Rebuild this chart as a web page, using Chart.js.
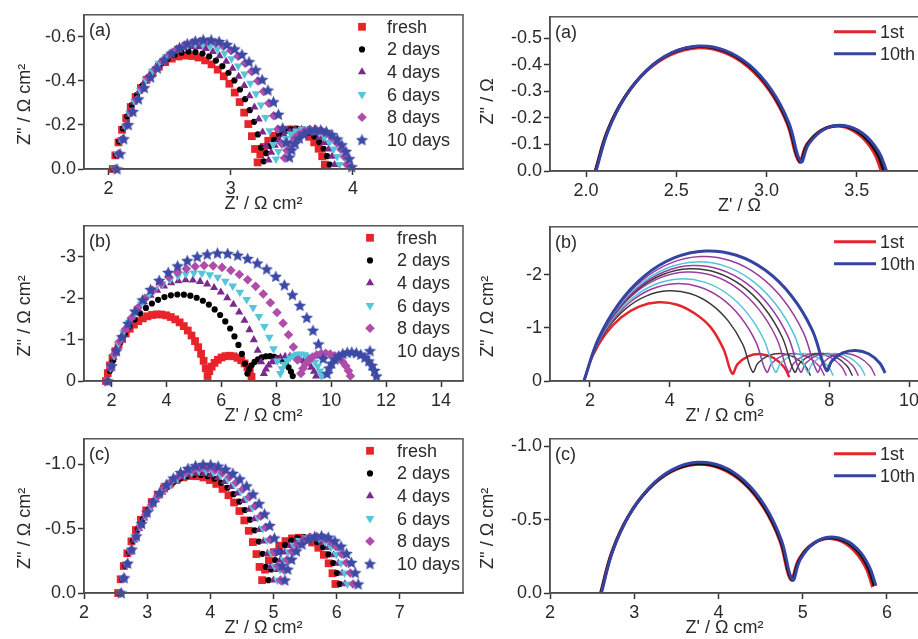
<!DOCTYPE html>
<html><head><meta charset="utf-8">
<script src="https://cdn.jsdelivr.net/npm/chart.js@4.4.1/dist/chart.umd.min.js"></script>
<style>
html,body{margin:0;padding:0;width:918px;height:639px;overflow:hidden;background:#fff;}
canvas{position:absolute;}
</style></head><body>
<canvas id="la"></canvas><canvas id="lb"></canvas><canvas id="lc"></canvas>
<canvas id="ra"></canvas><canvas id="rb"></canvas><canvas id="rc"></canvas>
<script>
// ---------------- DATA (Z' and Z'') ----------------
const agingLabels = ['fresh', '2 days', '4 days', '6 days', '8 days', '10 days'];
const cycleLabels = ['1st', '10th'];

// Panel (a) left
const aFreshX = [2.035,2.056,2.082,2.111,2.145,2.182,2.222,2.266,2.312,2.361,2.412,2.464,2.518,2.573,2.628,2.683,2.737,2.791,2.843,2.894,2.943,2.989,3.033,3.073,3.110,3.144,3.173,3.199,3.220,3.242,3.271,3.307,3.349,3.395,3.444,3.495,3.546,3.595,3.641,3.683,3.719,3.748,3.770];
const aFreshY = [0,-0.062,-0.121,-0.178,-0.231,-0.281,-0.327,-0.368,-0.405,-0.437,-0.464,-0.485,-0.501,-0.511,-0.515,-0.513,-0.506,-0.493,-0.475,-0.451,-0.421,-0.387,-0.347,-0.304,-0.256,-0.204,-0.149,-0.091,-0.030,-0.067,-0.100,-0.128,-0.151,-0.168,-0.177,-0.180,-0.176,-0.164,-0.146,-0.121,-0.092,-0.058,-0.020];
const a2dX = [2.040,2.062,2.088,2.119,2.154,2.192,2.234,2.280,2.328,2.379,2.431,2.486,2.541,2.598,2.655,2.712,2.769,2.824,2.879,2.932,2.982,3.030,3.076,3.118,3.156,3.191,3.222,3.248,3.270,3.291,3.320,3.355,3.396,3.442,3.490,3.540,3.590,3.638,3.684,3.725,3.760,3.789,3.810];
const a2dY = [0,-0.063,-0.125,-0.184,-0.239,-0.290,-0.337,-0.380,-0.418,-0.452,-0.479,-0.501,-0.518,-0.528,-0.533,-0.531,-0.524,-0.511,-0.492,-0.467,-0.437,-0.402,-0.361,-0.317,-0.267,-0.214,-0.157,-0.097,-0.035,-0.072,-0.104,-0.132,-0.155,-0.171,-0.180,-0.183,-0.178,-0.165,-0.147,-0.122,-0.092,-0.058,-0.020];
const a4dX = [2.050,2.072,2.100,2.131,2.167,2.206,2.249,2.295,2.345,2.397,2.451,2.507,2.564,2.622,2.680,2.739,2.796,2.854,2.909,2.963,3.015,3.065,3.111,3.154,3.194,3.229,3.261,3.288,3.310,3.331,3.360,3.395,3.436,3.482,3.530,3.580,3.630,3.678,3.724,3.765,3.800,3.829,3.850];
const a4dY = [0,-0.066,-0.130,-0.191,-0.248,-0.302,-0.351,-0.396,-0.435,-0.470,-0.499,-0.522,-0.539,-0.550,-0.555,-0.554,-0.546,-0.533,-0.513,-0.488,-0.457,-0.420,-0.378,-0.332,-0.281,-0.226,-0.167,-0.105,-0.040,-0.075,-0.107,-0.133,-0.155,-0.170,-0.178,-0.180,-0.175,-0.163,-0.144,-0.120,-0.090,-0.057,-0.020];
const a6dX = [2.050,2.074,2.102,2.135,2.172,2.213,2.259,2.307,2.359,2.413,2.470,2.528,2.588,2.649,2.710,2.771,2.832,2.892,2.950,3.007,3.061,3.113,3.161,3.207,3.248,3.285,3.318,3.347,3.370,3.390,3.418,3.452,3.492,3.535,3.582,3.630,3.678,3.725,3.768,3.808,3.842,3.870,3.890];
const a6dY = [0,-0.067,-0.133,-0.195,-0.253,-0.308,-0.358,-0.404,-0.444,-0.480,-0.509,-0.533,-0.551,-0.562,-0.568,-0.566,-0.559,-0.545,-0.526,-0.500,-0.468,-0.431,-0.389,-0.342,-0.290,-0.234,-0.174,-0.111,-0.045,-0.080,-0.111,-0.138,-0.159,-0.173,-0.181,-0.183,-0.177,-0.164,-0.145,-0.121,-0.091,-0.057,-0.020];
const a8dX = [2.060,2.085,2.114,2.149,2.188,2.231,2.278,2.329,2.383,2.440,2.499,2.560,2.623,2.686,2.750,2.814,2.878,2.940,3.001,3.060,3.117,3.171,3.222,3.269,3.312,3.351,3.386,3.415,3.440,3.460,3.487,3.521,3.559,3.602,3.648,3.695,3.742,3.788,3.831,3.869,3.903,3.930,3.950];
const a8dY = [0,-0.069,-0.135,-0.199,-0.258,-0.314,-0.365,-0.412,-0.454,-0.490,-0.520,-0.544,-0.563,-0.574,-0.580,-0.579,-0.572,-0.558,-0.538,-0.512,-0.480,-0.443,-0.400,-0.352,-0.299,-0.242,-0.181,-0.117,-0.050,-0.084,-0.114,-0.139,-0.158,-0.172,-0.180,-0.180,-0.174,-0.161,-0.142,-0.118,-0.089,-0.056,-0.020];
const a10dX = [2.070,2.095,2.125,2.161,2.200,2.245,2.293,2.345,2.400,2.458,2.519,2.581,2.645,2.710,2.775,2.840,2.905,2.969,3.032,3.092,3.150,3.205,3.257,3.305,3.350,3.390,3.425,3.455,3.480,3.500,3.527,3.561,3.599,3.642,3.688,3.735,3.782,3.828,3.871,3.909,3.943,3.970,3.990];
const a10dY = [0,-0.069,-0.137,-0.201,-0.261,-0.318,-0.369,-0.417,-0.458,-0.495,-0.526,-0.551,-0.569,-0.581,-0.587,-0.586,-0.579,-0.565,-0.545,-0.520,-0.487,-0.450,-0.406,-0.358,-0.305,-0.248,-0.186,-0.121,-0.054,-0.087,-0.116,-0.140,-0.159,-0.172,-0.178,-0.177,-0.170,-0.156,-0.136,-0.110,-0.080,-0.047,-0.010];

// Panel (b) left
const bFreshX = [1.800,1.866,1.945,2.038,2.142,2.258,2.385,2.521,2.666,2.818,2.977,3.141,3.308,3.478,3.650,3.822,3.992,4.160,4.323,4.482,4.634,4.779,4.915,5.042,5.158,5.263,5.355,5.434,5.500,5.563,5.648,5.753,5.874,6.009,6.152,6.300,6.448,6.591,6.726,6.847,6.952,7.037,7.100];
const bFreshY = [0,-0.191,-0.377,-0.553,-0.720,-0.875,-1.017,-1.147,-1.262,-1.363,-1.446,-1.513,-1.563,-1.595,-1.610,-1.606,-1.586,-1.546,-1.489,-1.417,-1.326,-1.220,-1.099,-0.965,-0.817,-0.658,-0.488,-0.307,-0.120,-0.239,-0.347,-0.439,-0.513,-0.568,-0.600,-0.610,-0.597,-0.560,-0.503,-0.425,-0.330,-0.221,-0.100];
const b2dX = [1.850,1.941,2.050,2.177,2.322,2.481,2.656,2.844,3.043,3.254,3.472,3.698,3.929,4.163,4.400,4.637,4.871,5.102,5.328,5.547,5.757,5.957,6.144,6.319,6.478,6.623,6.750,6.859,6.950,7.015,7.103,7.211,7.336,7.475,7.623,7.775,7.928,8.075,8.214,8.339,8.447,8.535,8.600];
const b2dY = [0,-0.247,-0.487,-0.716,-0.931,-1.132,-1.316,-1.485,-1.634,-1.766,-1.873,-1.961,-2.027,-2.070,-2.090,-2.086,-2.061,-2.011,-1.939,-1.847,-1.730,-1.595,-1.440,-1.268,-1.077,-0.872,-0.653,-0.421,-0.180,-0.286,-0.380,-0.460,-0.524,-0.570,-0.595,-0.600,-0.584,-0.548,-0.492,-0.419,-0.331,-0.230,-0.120];
const b4dX = [1.850,1.952,2.074,2.216,2.377,2.556,2.751,2.960,3.184,3.419,3.663,3.915,4.173,4.436,4.700,4.965,5.227,5.485,5.737,5.981,6.216,6.440,6.649,6.844,7.023,7.184,7.326,7.449,7.550,7.625,7.726,7.850,7.995,8.154,8.324,8.500,8.676,8.846,9.005,9.150,9.274,9.375,9.450];
const b4dY = [0,-0.290,-0.571,-0.839,-1.091,-1.327,-1.542,-1.739,-1.913,-2.066,-2.191,-2.293,-2.369,-2.418,-2.440,-2.434,-2.403,-2.343,-2.257,-2.147,-2.009,-1.849,-1.665,-1.462,-1.237,-0.996,-0.737,-0.464,-0.180,-0.286,-0.380,-0.460,-0.524,-0.570,-0.595,-0.600,-0.584,-0.548,-0.492,-0.419,-0.331,-0.230,-0.120];
const b6dX = [1.850,1.962,2.098,2.255,2.433,2.630,2.845,3.077,3.324,3.584,3.854,4.133,4.418,4.708,5.000,5.292,5.582,5.868,6.146,6.416,6.676,6.923,7.155,7.370,7.567,7.746,7.902,8.038,8.150,8.209,8.289,8.387,8.501,8.627,8.761,8.900,9.039,9.173,9.299,9.413,9.511,9.591,9.650];
const b6dY = [0,-0.311,-0.612,-0.899,-1.168,-1.421,-1.651,-1.862,-2.048,-2.212,-2.345,-2.454,-2.535,-2.587,-2.610,-2.603,-2.569,-2.504,-2.411,-2.293,-2.144,-1.972,-1.775,-1.556,-1.315,-1.055,-0.778,-0.484,-0.180,-0.298,-0.403,-0.493,-0.564,-0.615,-0.644,-0.650,-0.633,-0.593,-0.532,-0.452,-0.354,-0.242,-0.120];
const b8dX = [1.850,1.976,2.127,2.303,2.502,2.723,2.964,3.223,3.500,3.790,4.093,4.404,4.724,5.048,5.375,5.702,6.026,6.346,6.657,6.960,7.250,7.527,7.786,8.027,8.248,8.447,8.623,8.775,8.900,8.971,9.067,9.184,9.321,9.473,9.634,9.800,9.966,10.127,10.279,10.416,10.534,10.629,10.700];
const b8dY = [0,-0.333,-0.655,-0.962,-1.251,-1.521,-1.767,-1.993,-2.191,-2.366,-2.509,-2.625,-2.711,-2.765,-2.790,-2.782,-2.745,-2.674,-2.574,-2.447,-2.287,-2.102,-1.890,-1.656,-1.397,-1.119,-0.821,-0.506,-0.180,-0.302,-0.412,-0.505,-0.580,-0.633,-0.664,-0.670,-0.653,-0.611,-0.548,-0.464,-0.363,-0.247,-0.120];
const b10dX = [1.870,2.012,2.184,2.382,2.608,2.858,3.131,3.425,3.737,4.066,4.408,4.761,5.123,5.490,5.860,6.230,6.597,6.959,7.312,7.654,7.983,8.296,8.589,8.862,9.112,9.338,9.536,9.708,9.850,9.921,10.017,10.134,10.271,10.423,10.584,10.750,10.916,11.077,11.229,11.366,11.484,11.579,11.650];
const b10dY = [0,-0.369,-0.727,-1.068,-1.388,-1.687,-1.960,-2.210,-2.430,-2.624,-2.781,-2.909,-3.004,-3.064,-3.090,-3.080,-3.038,-2.959,-2.847,-2.705,-2.526,-2.320,-2.084,-1.823,-1.534,-1.224,-0.893,-0.543,-0.180,-0.310,-0.426,-0.525,-0.604,-0.660,-0.693,-0.700,-0.682,-0.639,-0.572,-0.484,-0.377,-0.254,-0.120];

// Panel (c) left
const cFreshX = [2.540,2.581,2.630,2.686,2.751,2.822,2.900,2.984,3.074,3.168,3.265,3.366,3.469,3.574,3.680,3.786,3.891,3.994,4.095,4.193,4.287,4.376,4.460,4.538,4.609,4.674,4.730,4.779,4.820,4.866,4.927,5.003,5.091,5.189,5.293,5.400,5.507,5.611,5.709,5.797,5.873,5.934,5.980];
const cFreshY = [0,-0.107,-0.210,-0.309,-0.402,-0.490,-0.570,-0.643,-0.708,-0.765,-0.813,-0.852,-0.881,-0.900,-0.910,-0.909,-0.899,-0.879,-0.849,-0.810,-0.761,-0.704,-0.638,-0.565,-0.484,-0.396,-0.303,-0.203,-0.100,-0.182,-0.255,-0.318,-0.368,-0.404,-0.425,-0.430,-0.419,-0.393,-0.352,-0.297,-0.231,-0.154,-0.070];
const c2dX = [2.560,2.602,2.653,2.712,2.778,2.852,2.933,3.020,3.112,3.210,3.311,3.415,3.522,3.631,3.740,3.850,3.958,4.065,4.169,4.271,4.368,4.460,4.547,4.628,4.702,4.769,4.827,4.878,4.920,4.964,5.025,5.099,5.184,5.280,5.381,5.485,5.589,5.691,5.786,5.872,5.946,6.006,6.050];
const c2dY = [0,-0.108,-0.213,-0.313,-0.407,-0.495,-0.576,-0.650,-0.716,-0.774,-0.822,-0.861,-0.891,-0.910,-0.920,-0.919,-0.909,-0.889,-0.858,-0.819,-0.769,-0.711,-0.645,-0.571,-0.488,-0.400,-0.305,-0.204,-0.100,-0.183,-0.257,-0.321,-0.372,-0.408,-0.430,-0.435,-0.424,-0.397,-0.356,-0.300,-0.233,-0.155,-0.070];
const c4dX = [2.570,2.613,2.666,2.726,2.795,2.871,2.954,3.043,3.139,3.239,3.343,3.450,3.561,3.672,3.785,3.898,4.010,4.120,4.227,4.331,4.431,4.527,4.616,4.699,4.775,4.844,4.905,4.957,5.000,5.044,5.105,5.179,5.264,5.360,5.461,5.565,5.669,5.771,5.866,5.952,6.026,6.086,6.130];
const c4dY = [0,-0.109,-0.215,-0.316,-0.412,-0.501,-0.583,-0.658,-0.724,-0.783,-0.831,-0.870,-0.901,-0.920,-0.930,-0.929,-0.919,-0.898,-0.867,-0.828,-0.777,-0.719,-0.651,-0.576,-0.493,-0.403,-0.307,-0.206,-0.100,-0.182,-0.255,-0.318,-0.368,-0.404,-0.425,-0.430,-0.419,-0.393,-0.352,-0.297,-0.231,-0.154,-0.070];
const c6dX = [2.580,2.624,2.678,2.739,2.809,2.887,2.972,3.063,3.160,3.263,3.369,3.479,3.591,3.705,3.820,3.935,4.049,4.162,4.271,4.378,4.480,4.577,4.668,4.753,4.831,4.901,4.963,5.016,5.060,5.104,5.163,5.235,5.320,5.413,5.512,5.615,5.718,5.817,5.910,5.995,6.067,6.126,6.170];
const c6dY = [0,-0.112,-0.220,-0.323,-0.421,-0.512,-0.595,-0.672,-0.740,-0.800,-0.849,-0.889,-0.920,-0.940,-0.950,-0.949,-0.939,-0.917,-0.885,-0.845,-0.793,-0.733,-0.664,-0.587,-0.502,-0.410,-0.312,-0.208,-0.100,-0.183,-0.257,-0.321,-0.372,-0.408,-0.430,-0.435,-0.424,-0.397,-0.356,-0.300,-0.233,-0.155,-0.070];
const c8dX = [2.580,2.625,2.679,2.742,2.814,2.893,2.980,3.073,3.172,3.276,3.385,3.497,3.611,3.728,3.845,3.962,4.079,4.193,4.305,4.414,4.518,4.617,4.710,4.797,4.876,4.948,5.011,5.065,5.110,5.155,5.216,5.292,5.379,5.476,5.579,5.685,5.791,5.894,5.991,6.078,6.154,6.215,6.260];
const c8dY = [0,-0.114,-0.225,-0.330,-0.430,-0.523,-0.608,-0.687,-0.756,-0.817,-0.867,-0.908,-0.940,-0.960,-0.970,-0.969,-0.958,-0.936,-0.904,-0.862,-0.809,-0.748,-0.677,-0.598,-0.511,-0.417,-0.317,-0.210,-0.100,-0.184,-0.259,-0.324,-0.376,-0.413,-0.435,-0.440,-0.429,-0.402,-0.360,-0.303,-0.235,-0.156,-0.070];
const c10dX = [2.590,2.636,2.692,2.756,2.830,2.911,2.999,3.095,3.196,3.303,3.414,3.528,3.646,3.765,3.885,4.005,4.124,4.242,4.356,4.467,4.574,4.676,4.771,4.859,4.940,5.014,5.078,5.134,5.180,5.226,5.287,5.363,5.451,5.549,5.653,5.760,5.867,5.971,6.069,6.157,6.233,6.294,6.340];
const c10dY = [0,-0.118,-0.232,-0.341,-0.444,-0.540,-0.628,-0.708,-0.780,-0.843,-0.894,-0.937,-0.969,-0.990,-1.000,-0.999,-0.987,-0.964,-0.931,-0.888,-0.833,-0.769,-0.696,-0.615,-0.525,-0.428,-0.324,-0.214,-0.100,-0.185,-0.262,-0.327,-0.380,-0.417,-0.440,-0.445,-0.434,-0.406,-0.364,-0.307,-0.237,-0.158,-0.070];

// Panel (a) right (1st cycle, an intermediate cycle, 10th cycle)
const raRedX = [2.050,2.117,2.213,2.333,2.470,2.615,2.760,2.897,3.017,3.113,3.180,3.222,3.305,3.408,3.510,3.593,3.635];
const raRedY = [0,-0.149,-0.276,-0.375,-0.438,-0.463,-0.447,-0.392,-0.301,-0.180,-0.035,-0.100,-0.154,-0.168,-0.138,-0.072,0];
const raBlackX = [2.052,2.119,2.215,2.336,2.473,2.619,2.764,2.902,3.022,3.118,3.185,3.228,3.313,3.418,3.522,3.607,3.650];
const raBlackY = [0,-0.151,-0.279,-0.379,-0.443,-0.468,-0.452,-0.396,-0.304,-0.181,-0.035,-0.101,-0.156,-0.170,-0.140,-0.073,0];
const raBlueX = [2.055,2.122,2.218,2.339,2.476,2.623,2.769,2.906,3.027,3.123,3.190,3.234,3.321,3.428,3.534,3.621,3.665];
const raBlueY = [0,-0.151,-0.280,-0.380,-0.445,-0.470,-0.454,-0.398,-0.305,-0.182,-0.035,-0.102,-0.157,-0.171,-0.141,-0.073,0];

// Panel (b) right (cycles 1..10)
const rb1X = [1.850,2.070,2.386,2.781,3.231,3.710,4.189,4.639,5.034,5.351,5.570,5.702,5.964,6.285,6.607,6.868,7.000];
const rb1Y = [0,-0.474,-0.879,-1.194,-1.399,-1.480,-1.435,-1.264,-1.004,-0.597,-0.140,-0.316,-0.464,-0.505,-0.433,-0.259,-0.070];
const rb2X = [1.850,2.100,2.459,2.908,3.421,3.965,4.509,5.022,5.471,5.830,6.080,6.214,6.479,6.805,7.131,7.396,7.530];
const rb2Y = [0,-0.541,-1.005,-1.366,-1.601,-1.695,-1.644,-1.451,-1.126,-0.691,-0.170,-0.337,-0.477,-0.515,-0.445,-0.280,-0.100];
const rb3X = [1.850,2.120,2.510,2.996,3.551,4.140,4.729,5.284,5.771,6.160,6.430,6.564,6.829,7.155,7.481,7.746,7.880];
const rb3Y = [0,-0.586,-1.087,-1.477,-1.730,-1.830,-1.773,-1.562,-1.208,-0.736,-0.170,-0.337,-0.477,-0.515,-0.445,-0.280,-0.100];
const rb4X = [1.850,2.133,2.541,3.051,3.632,4.250,4.868,5.449,5.959,6.367,6.650,6.784,7.049,7.375,7.701,7.966,8.100];
const rb4Y = [0,-0.616,-1.142,-1.551,-1.816,-1.920,-1.859,-1.636,-1.263,-0.766,-0.170,-0.337,-0.477,-0.515,-0.445,-0.280,-0.100];
const rb5X = [1.850,2.153,2.589,3.134,3.755,4.415,5.075,5.697,6.241,6.677,6.980,7.114,7.379,7.705,8.031,8.296,8.430];
const rb5Y = [0,-0.659,-1.221,-1.658,-1.940,-2.050,-1.983,-1.743,-1.342,-0.809,-0.170,-0.337,-0.477,-0.515,-0.445,-0.280,-0.100];
const rb6X = [1.850,2.162,2.610,3.171,3.811,4.490,5.170,5.809,6.370,6.819,7.130,7.264,7.529,7.855,8.181,8.446,8.580];
const rb6Y = [0,-0.678,-1.258,-1.707,-1.997,-2.110,-2.041,-1.792,-1.379,-0.828,-0.170,-0.337,-0.477,-0.515,-0.445,-0.280,-0.100];
const rb7X = [1.850,2.170,2.632,3.209,3.866,4.565,5.264,5.921,6.498,6.960,7.280,7.414,7.679,8.005,8.331,8.596,8.730];
const rb7Y = [0,-0.698,-1.294,-1.756,-2.054,-2.170,-2.098,-1.841,-1.415,-0.848,-0.170,-0.337,-0.477,-0.515,-0.445,-0.280,-0.100];
const rb8X = [1.850,2.180,2.656,3.251,3.929,4.650,5.371,6.049,6.644,7.120,7.450,7.584,7.849,8.175,8.501,8.766,8.900];
const rb8Y = [0,-0.721,-1.337,-1.814,-2.121,-2.240,-2.165,-1.899,-1.458,-0.871,-0.170,-0.337,-0.477,-0.515,-0.445,-0.280,-0.100];
const rb9X = [1.850,2.195,2.692,3.314,4.022,4.775,5.528,6.236,6.858,7.355,7.700,7.834,8.099,8.425,8.751,9.016,9.150];
const rb9Y = [0,-0.754,-1.398,-1.896,-2.217,-2.340,-2.260,-1.981,-1.519,-0.904,-0.170,-0.337,-0.477,-0.515,-0.445,-0.280,-0.100];
const rb10X = [1.850,2.209,2.726,3.371,4.108,4.890,5.673,6.409,7.055,7.571,7.930,8.066,8.335,8.665,8.996,9.264,9.400];
const rb10Y = [0,-0.786,-1.457,-1.978,-2.314,-2.445,-2.365,-2.077,-1.599,-0.962,-0.200,-0.378,-0.529,-0.575,-0.507,-0.337,-0.150];

// Panel (c) right
const rcRedX = [2.600,2.733,2.925,3.166,3.439,3.730,4.021,4.295,4.535,4.727,4.860,4.950,5.127,5.345,5.563,5.740,5.830];
const rcRedY = [0,-0.279,-0.519,-0.705,-0.826,-0.875,-0.849,-0.750,-0.582,-0.358,-0.090,-0.225,-0.338,-0.370,-0.315,-0.184,-0.040];
const rcBlackX = [2.605,2.739,2.931,3.172,3.446,3.738,4.029,4.303,4.544,4.736,4.870,4.961,5.140,5.360,5.580,5.759,5.850];
const rcBlackY = [0,-0.281,-0.522,-0.709,-0.831,-0.880,-0.854,-0.754,-0.585,-0.360,-0.090,-0.226,-0.341,-0.375,-0.323,-0.193,-0.050];
const rcBlueX = [2.610,2.744,2.937,3.178,3.453,3.745,4.037,4.312,4.553,4.746,4.880,4.972,5.152,5.375,5.598,5.778,5.870];
const rcBlueY = [0,-0.284,-0.528,-0.717,-0.840,-0.890,-0.864,-0.762,-0.592,-0.363,-0.090,-0.228,-0.345,-0.380,-0.327,-0.195,-0.050];

// Tick values and labels
const laXTicks = [2, 3, 4];            const laXLabels = ['2', '3', '4'];
const laYTicks = [0, -0.2, -0.4, -0.6]; const laYLabels = ['0.0', '-0.2', '-0.4', '-0.6'];
const lbXTicks = [2, 4, 6, 8, 10, 12, 14]; const lbXLabels = ['2', '4', '6', '8', '10', '12', '14'];
const lbYTicks = [0, -1, -2, -3];       const lbYLabels = ['0', '-1', '-2', '-3'];
const lcXTicks = [2, 3, 4, 5, 6, 7];    const lcXLabels = ['2', '3', '4', '5', '6', '7'];
const lcYTicks = [0, -0.5, -1.0];       const lcYLabels = ['0.0', '-0.5', '-1.0'];
const raXTicks = [2.0, 2.5, 3.0, 3.5];  const raXLabels = ['2.0', '2.5', '3.0', '3.5'];
const raYTicks = [0, -0.1, -0.2, -0.3, -0.4, -0.5]; const raYLabels = ['0.0', '-0.1', '-0.2', '-0.3', '-0.4', '-0.5'];
const rbXTicks = [2, 4, 6, 8, 10];      const rbXLabels = ['2', '4', '6', '8', '10'];
const rbYTicks = [0, -1, -2];           const rbYLabels = ['0', '-1', '-2'];
const rcXTicks = [2, 3, 4, 5, 6];       const rcXLabels = ['2', '3', '4', '5', '6'];
const rcYTicks = [0, -0.5, -1.0];       const rcYLabels = ['0.0', '-0.5', '-1.0'];

// ---------------- STYLE ----------------
const FONT = '"Liberation Sans", Arial, Helvetica, sans-serif';
Chart.defaults.font.family = FONT;
Chart.defaults.font.size = 18;
Chart.defaults.color = '#222';
const INK = '#2a2a2a';

function starImage(color, size) {
  const c = document.createElement('canvas');
  c.width = size; c.height = size;
  const g = c.getContext('2d');
  const R = size / 2, r = R * 0.46;
  g.beginPath();
  for (let i = 0; i < 10; i++) {
    const a = -Math.PI / 2 + i * Math.PI / 5;
    const rr = (i % 2) ? r : R;
    g.lineTo(R + rr * Math.cos(a), R + 0.5 + rr * Math.sin(a));
  }
  g.closePath(); g.fillStyle = color; g.fill();
  return c;
}

const markerStyles = [
  { style: 'rect', radius: 5.5, rotation: 0, color: '#e8242b' },
  { style: 'circle', radius: 3.1, rotation: 0, color: '#000000' },
  { style: 'triangle', radius: 4.7, rotation: 0, color: '#7b2a8c' },
  { style: 'triangle', radius: 5, rotation: 180, color: '#55c5da' },
  { style: 'rectRot', radius: 4.8, rotation: 0, color: '#b04caa' },
  { style: null, radius: 5, rotation: 0, color: '#3c4aa6' }
];
markerStyles[5].style = starImage('#3c4aa6', 13);

function drawMarker(ctx, st, x, y) {
  ctx.save();
  ctx.fillStyle = st.color;
  const r = st.radius;
  if (typeof st.style === 'object') {
    ctx.drawImage(st.style, x - st.style.width / 2, y - st.style.height / 2);
  } else if (st.style === 'rect') {
    const s = r * Math.SQRT1_2;
    ctx.fillRect(x - s, y - s, 2 * s, 2 * s);
  } else if (st.style === 'circle') {
    ctx.beginPath(); ctx.arc(x, y, r, 0, Math.PI * 2); ctx.fill();
  } else if (st.style === 'triangle') {
    const f = st.rotation ? -1 : 1;
    ctx.beginPath();
    ctx.moveTo(x, y - f * r);
    ctx.lineTo(x + r * 0.866, y + f * r * 0.5);
    ctx.lineTo(x - r * 0.866, y + f * r * 0.5);
    ctx.closePath(); ctx.fill();
  } else if (st.style === 'rectRot') {
    ctx.beginPath();
    ctx.moveTo(x, y - r); ctx.lineTo(x + r, y); ctx.lineTo(x, y + r); ctx.lineTo(x - r, y);
    ctx.closePath(); ctx.fill();
  }
  ctx.restore();
}

const framePlugin = {
  id: 'frame',
  afterDraw(chart, args, opts) {
    const { ctx, chartArea: { left, top, right, bottom } } = chart;
    ctx.save();
    ctx.strokeStyle = '#555'; ctx.lineWidth = 1.5;
    ctx.strokeRect(left, top, right - left, bottom - top);
    ctx.fillStyle = INK;
    ctx.font = '18px ' + FONT;
    ctx.textBaseline = 'middle'; ctx.textAlign = 'left';
    ctx.fillText(opts.label, left + 5, top + 16);
    const lg = opts.legend;
    lg.entries.forEach((e, i) => {
      const y = top + lg.y0 + i * lg.dy;
      if (lg.kind === 'marker') {
        drawMarker(ctx, e.style, left + lg.mx, y);
      } else {
        ctx.strokeStyle = e.color; ctx.lineWidth = 3;
        ctx.beginPath(); ctx.moveTo(left + lg.lx0, y); ctx.lineTo(left + lg.lx1, y); ctx.stroke();
      }
      ctx.fillStyle = INK;
      ctx.fillText(e.text, left + lg.tx, y + 1);
    });
    ctx.restore();
  }
};

function pts(xs, ys) { return xs.map((x, i) => ({ x: x, y: ys[i] })); }

function markerSet(label, xs, ys, st, order) {
  return {
    label: label, data: pts(xs, ys), showLine: false,
    pointStyle: st.style, pointRadius: st.radius, pointHoverRadius: st.radius,
    pointRotation: st.rotation, backgroundColor: st.color, borderColor: st.color,
    pointBorderWidth: 0, clip: false, order: order
  };
}
function lineSet(label, xs, ys, color, width, order) {
  return {
    label: label, data: pts(xs, ys), showLine: true, borderColor: color,
    backgroundColor: color, borderWidth: width, pointRadius: 0, tension: 0.4,
    fill: false, clip: false, order: order
  };
}

function makePanel(p) {
  const cv = document.getElementById(p.id);
  cv.width = p.w; cv.height = p.h;
  cv.style.left = p.x + 'px'; cv.style.top = p.y + 'px';
  const axisCommon = {
    grid: { drawOnChartArea: false, drawTicks: true, tickLength: 6, color: '#333', tickColor: '#333', tickWidth: 1.5 },
    border: { display: true, color: '#333', width: 1.5 }
  };
  return new Chart(cv, {
    type: 'scatter',
    data: { datasets: p.datasets },
    options: {
      responsive: false, animation: false, devicePixelRatio: 1,
      layout: { padding: { top: p.padTop, right: p.padRight, left: 0, bottom: 0 } },
      plugins: { legend: { display: false }, tooltip: { enabled: false },
        frame: { label: p.label, legend: p.legend } },
      scales: {
        x: Object.assign({
          type: 'linear', position: 'bottom', min: p.xMin, max: p.xMax,
          afterFit: s => { s.height = p.xAxisH; },
          afterBuildTicks: s => { s.ticks = p.xTicks.map(v => ({ value: v })); },
          ticks: { callback: (v, i) => p.xLabels[i], autoSkip: false, maxRotation: 0, padding: 3, color: INK, font: { size: 18 } },
          title: { display: true, text: p.xTitle, color: INK, font: { size: 18 }, padding: { top: 0, bottom: 0 } }
        }, axisCommon),
        y: Object.assign({
          type: 'linear', position: 'left', reverse: true, min: p.yMin, max: p.yMax,
          afterFit: s => { s.width = p.yAxisW; },
          afterBuildTicks: s => { s.ticks = p.yTicks.map(v => ({ value: v })); },
          ticks: { callback: (v, i) => p.yLabels[i], autoSkip: false, padding: 2, color: INK, font: { size: 18 } },
          title: { display: true, text: p.yTitle, color: INK, font: { size: 18 }, padding: { top: p.yTitlePad, bottom: 0 } }
        }, axisCommon)
      }
    },
    plugins: [framePlugin]
  });
}

function agingSets(series) {
  return series.map((s, i) => markerSet(agingLabels[i], s[0], s[1], markerStyles[i], 6 - i));
}
function agingLegend(mx, tx) {
  return { kind: 'marker', mx: mx, tx: tx, y0: 12, dy: 22.6,
    entries: agingLabels.map((t, i) => ({ text: t, style: markerStyles[i] })) };
}
function cycleLegend() {
  return { kind: 'line', lx0: 284, lx1: 326, tx: 330, y0: 15, dy: 22,
    entries: [{ text: cycleLabels[0], color: '#e3262b' }, { text: cycleLabels[1], color: '#3543a3' }] };
}

const yTitleCm = "Z'' / \u03A9 cm\u00B2     ";
const xTitleCm = "Z' / \u03A9 cm\u00B2    ";

// Left column
makePanel({ id: 'la', x: 0, y: 2, w: 471, h: 213, padTop: 12, padRight: 8, yAxisW: 84, xAxisH: 46, yTitlePad: 14,
  xMin: 1.8, xMax: 4.9, yMin: -0.7, yMax: 0, xTicks: laXTicks, xLabels: laXLabels, yTicks: laYTicks, yLabels: laYLabels,
  xTitle: xTitleCm, yTitle: yTitleCm, label: '(a)', legend: agingLegend(278, 303),
  datasets: agingSets([[aFreshX, aFreshY], [a2dX, a2dY], [a4dX, a4dY], [a6dX, a6dY], [a8dX, a8dY], [a10dX, a10dY]]) });
makePanel({ id: 'lb', x: 0, y: 213, w: 471, h: 214, padTop: 12, padRight: 8, yAxisW: 84, xAxisH: 46, yTitlePad: 14,
  xMin: 1.0, xMax: 14.8, yMin: -3.75, yMax: 0, xTicks: lbXTicks, xLabels: lbXLabels, yTicks: lbYTicks, yLabels: lbYLabels,
  xTitle: xTitleCm, yTitle: yTitleCm, label: '(b)', legend: agingLegend(286, 313),
  datasets: agingSets([[bFreshX, bFreshY], [b2dX, b2dY], [b4dX, b4dY], [b6dX, b6dY], [b8dX, b8dY], [b10dX, b10dY]]) });
makePanel({ id: 'lc', x: 0, y: 426, w: 471, h: 213, padTop: 12, padRight: 8, yAxisW: 84, xAxisH: 46, yTitlePad: 14,
  xMin: 2, xMax: 8, yMin: -1.2, yMax: 0, xTicks: lcXTicks, xLabels: lcXLabels, yTicks: lcYTicks, yLabels: lcYLabels,
  xTitle: xTitleCm, yTitle: yTitleCm, label: '(c)', legend: agingLegend(286, 313),
  datasets: agingSets([[cFreshX, cFreshY], [c2dX, c2dY], [c4dX, c4dY], [c6dX, c6dY], [c8dX, c8dY], [c10dX, c10dY]]) });

// Right column
makePanel({ id: 'ra', x: 470, y: 4, w: 459, h: 213, padTop: 12, padRight: 0, yAxisW: 80, xAxisH: 46, yTitlePad: 7,
  xMin: 1.8, xMax: 3.9, yMin: -0.58, yMax: 0, xTicks: raXTicks, xLabels: raXLabels, yTicks: raYTicks, yLabels: raYLabels,
  xTitle: "Z' / \u03A9", yTitle: "Z'' / \u03A9   ", label: '(a)', legend: cycleLegend(),
  datasets: [
    lineSet(cycleLabels[0], raRedX, raRedY, '#e3262b', 3, 3),
    lineSet('cycles 2-9', raBlackX, raBlackY, '#111111', 3, 2),
    lineSet(cycleLabels[1], raBlueX, raBlueY, '#3543a3', 3, 1)
  ] });
makePanel({ id: 'rb', x: 470, y: 214, w: 459, h: 213, padTop: 12, padRight: 0, yAxisW: 80, xAxisH: 46, yTitlePad: 7,
  xMin: 1.0, xMax: 10.5, yMin: -2.9, yMax: 0, xTicks: rbXTicks, xLabels: rbXLabels, yTicks: rbYTicks, yLabels: rbYLabels,
  xTitle: "Z' / \u03A9 cm\u00B2      ", yTitle: yTitleCm, label: '(b)', legend: cycleLegend(),
  datasets: [
    lineSet(cycleLabels[0], rb1X, rb1Y, '#e3262b', 2.5, 10),
    lineSet('2nd', rb2X, rb2Y, '#3a3a3a', 1.5, 9),
    lineSet('3rd', rb3X, rb3Y, '#9a3c9e', 1.5, 8),
    lineSet('4th', rb4X, rb4Y, '#55c3d6', 1.5, 7),
    lineSet('5th', rb5X, rb5Y, '#9a3c9e', 1.5, 6),
    lineSet('6th', rb6X, rb6Y, '#3a3a3a', 1.5, 5),
    lineSet('7th', rb7X, rb7Y, '#9a3c9e', 1.5, 4),
    lineSet('8th', rb8X, rb8Y, '#55c3d6', 1.5, 3),
    lineSet('9th', rb9X, rb9Y, '#9a3c9e', 1.5, 2),
    lineSet(cycleLabels[1], rb10X, rb10Y, '#3543a3', 3, 1)
  ] });
makePanel({ id: 'rc', x: 470, y: 426, w: 459, h: 213, padTop: 12, padRight: 0, yAxisW: 80, xAxisH: 46, yTitlePad: 7,
  xMin: 2, xMax: 6.5, yMin: -1.05, yMax: 0, xTicks: rcXTicks, xLabels: rcXLabels, yTicks: rcYTicks, yLabels: rcYLabels,
  xTitle: "Z' / \u03A9 cm\u00B2      ", yTitle: yTitleCm, label: '(c)', legend: cycleLegend(),
  datasets: [
    lineSet(cycleLabels[0], rcRedX, rcRedY, '#e3262b', 3, 3),
    lineSet('cycles 2-9', rcBlackX, rcBlackY, '#111111', 3, 2),
    lineSet(cycleLabels[1], rcBlueX, rcBlueY, '#3543a3', 3, 1)
  ] });
</script>
</body></html>
